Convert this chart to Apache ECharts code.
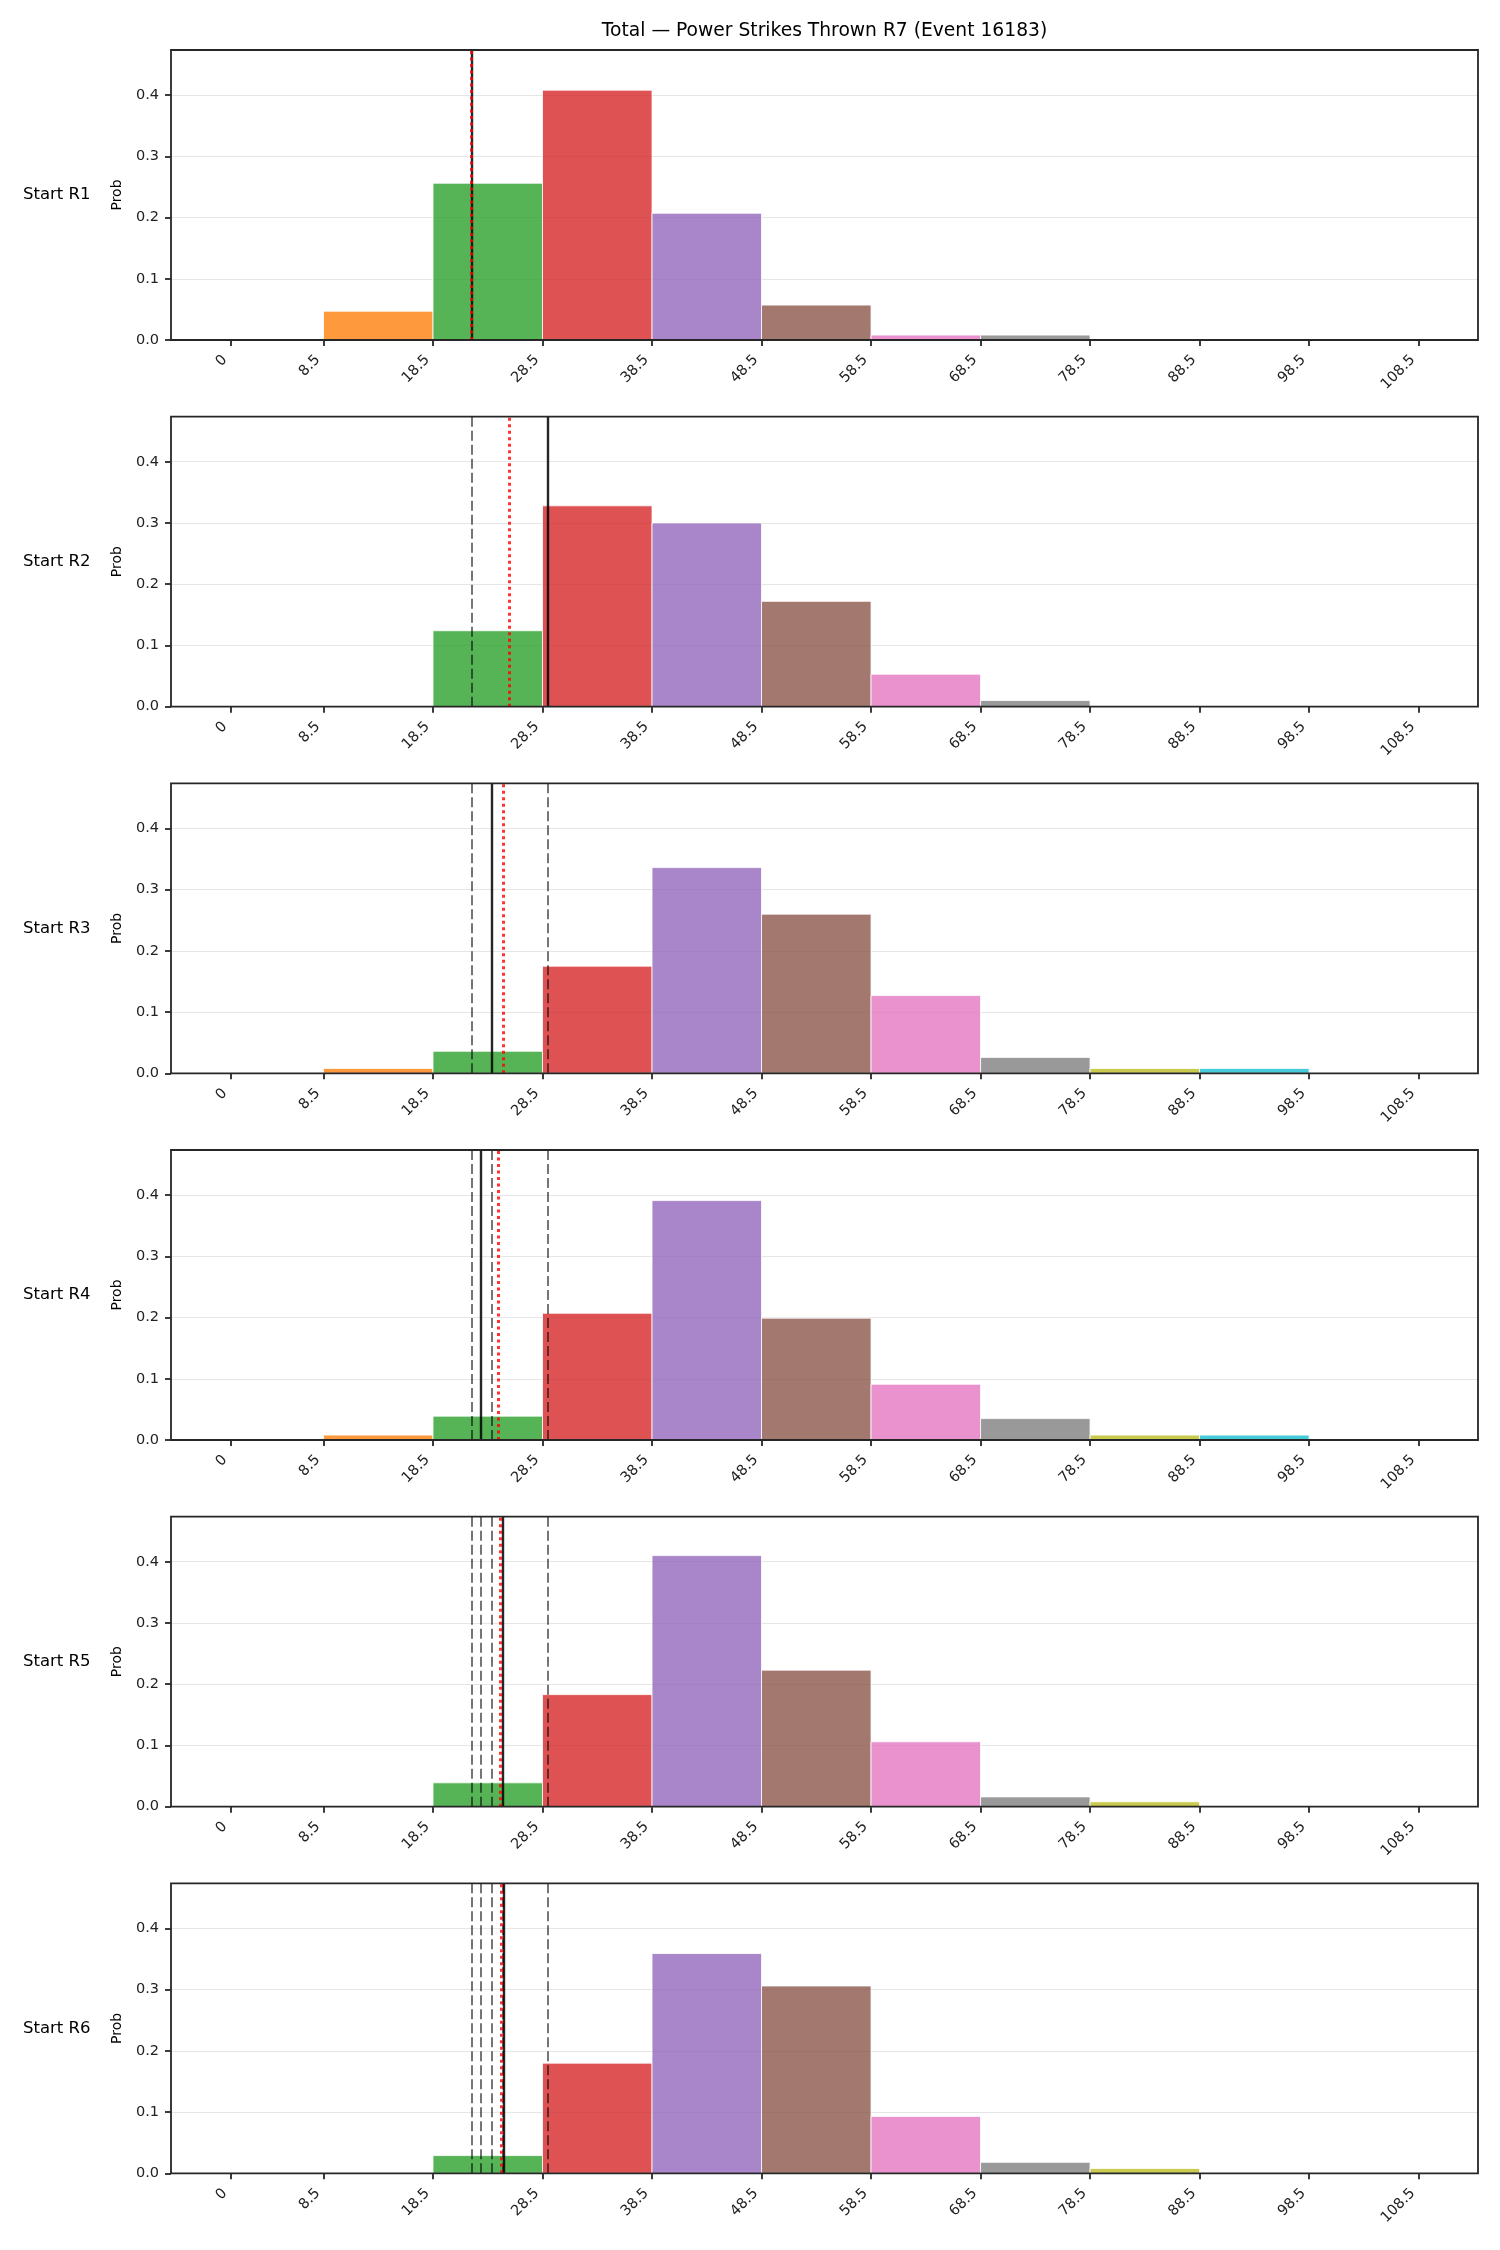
<!DOCTYPE html>
<html>
<head>
<meta charset="utf-8">
<script src="https://cdn.jsdelivr.net/npm/echarts@6/dist/echarts.min.js"></script>
<style>
  html, body { margin: 0; padding: 0; background: #fff; }
  #main { width: 1500px; height: 2250px; }
</style>
</head>
<body>
<div id="main"></div>
<script>
    // bin edges (also used as x tick values)
    const binEdges = [0, 8.5, 18.5, 28.5, 38.5, 48.5, 58.5, 68.5, 78.5, 88.5, 98.5, 108.5];
    const yTicks = [0, 0.1, 0.2, 0.3, 0.4];
    const roundNames = ['Start R1', 'Start R2', 'Start R3', 'Start R4', 'Start R5', 'Start R6'];

    // probability per bin, one array per round
    const probR1 = [0, 0.047, 0.256, 0.408, 0.207, 0.057, 0.008, 0.008, 0, 0, 0];
    const probR2 = [0, 0, 0.124, 0.328, 0.300, 0.172, 0.053, 0.010, 0, 0, 0];
    const probR3 = [0, 0.008, 0.036, 0.175, 0.336, 0.260, 0.127, 0.026, 0.008, 0.008, 0];
    const probR4 = [0, 0.008, 0.039, 0.207, 0.391, 0.199, 0.091, 0.035, 0.008, 0.008, 0];
    const probR5 = [0, 0, 0.039, 0.183, 0.410, 0.223, 0.106, 0.016, 0.008, 0, 0];
    const probR6 = [0, 0, 0.029, 0.180, 0.359, 0.306, 0.093, 0.018, 0.008, 0, 0];
    const probs = [probR1, probR2, probR3, probR4, probR5, probR6];

    // solid line per round (earlier rounds come back dashed), red dotted line per round
    const solidLine = [22.0, 28.95, 23.9, 22.9, 24.9, 24.95];
    const redLine = [22.0, 25.5, 24.9, 24.5, 24.6, 24.75];

    const tab10 = ['#1f77b4', '#ff7f0e', '#2ca02c', '#d62728', '#9467bd',
                   '#8c564b', '#e377c2', '#7f7f7f', '#bcbd22', '#17becf'];

    // layout
    const gLeft = 171, gRight = 22, gTop0 = 50, gStep = 366.67, gHeight = 290;
    const xMin = -5.425, xMax = 113.925, yMax = 0.4736;
    const FONT = 'DejaVu Sans';

    const chart = echarts.init(document.getElementById('main'), null, { renderer: 'canvas' });

    let grids = [], xAxes = [], yAxes = [], series = [], graphics = [];

    graphics.push({
        type: 'text', x: gLeft + (1500 - gLeft - gRight) / 2, y: 31, z: 100,
        style: { text: 'Total \u2014 Power Strikes Thrown R7 (Event 16183)', font: '18.7px "DejaVu Sans"',
                 fill: '#000', align: 'center', verticalAlign: 'middle' }
    });

    for (let i = 0; i < probs.length; i++) {
        const top = gTop0 + gStep * i;
        grids.push({ left: gLeft, right: gRight, top: top, height: gHeight, containLabel: false });
        xAxes.push({
            type: 'value', gridIndex: i, min: xMin, max: xMax,
            axisLine: { show: false, onZero: false },
            axisTick: { show: true, customValues: binEdges, length: 6, lineStyle: { color: '#262626', width: 1.8 } },
            axisLabel: { show: true, customValues: binEdges, rotate: 45, margin: 12, padding: [0, 8, 0, 0],
                         fontFamily: FONT, fontSize: 14.5, color: '#222' },
            splitLine: { show: false }
        });
        yAxes.push({
            type: 'value', gridIndex: i, min: 0, max: yMax, interval: 0.1,
            axisLine: { show: false, onZero: false },
            axisTick: { show: true, customValues: yTicks, length: 6, lineStyle: { color: '#262626', width: 1.8 } },
            axisLabel: { show: true, customValues: yTicks, margin: 12, fontFamily: FONT, fontSize: 14.5, color: '#222',
                         formatter: v => v.toFixed(1) },
            splitLine: { show: true, lineStyle: { color: '#e6e6e6', width: 1 } }
        });

        const data = probs[i].map((p, k) => [binEdges[k], binEdges[k + 1], p, k]);

        let lines = [];
        for (let j = 0; j < i; j++) {
            lines.push({ xAxis: solidLine[j], lineStyle: { color: 'rgba(0,0,0,0.6)', width: 1.8, type: [10, 4] } });
        }
        lines.push({ xAxis: solidLine[i], lineStyle: { color: 'rgba(0,0,0,0.85)', width: 2.4, type: 'solid' } });
        lines.push({ xAxis: redLine[i], lineStyle: { color: 'rgba(255,0,0,0.8)', width: 3, type: [3, 3.5] } });

        series.push({
            type: 'custom', xAxisIndex: i, yAxisIndex: i, data: data,
            encode: { x: [0, 1], y: 2 },
            renderItem: function (params, api) {
                const h = api.value(2);
                if (h <= 0) return null;
                const p0 = api.coord([api.value(0), 0]);
                const p1 = api.coord([api.value(1), h]);
                return {
                    type: 'rect',
                    shape: { x: p0[0], y: p1[1], width: p1[0] - p0[0], height: p0[1] - p1[1] },
                    style: { fill: tab10[api.value(3) % 10], opacity: 0.8, stroke: '#fff', lineWidth: 1 }
                };
            },
            markLine: { silent: true, symbol: 'none', label: { show: false }, animation: false, data: lines },
            animation: false
        });

        // frame on top of bars
        graphics.push({
            type: 'rect', z: 50,
            shape: { x: gLeft, y: top, width: 1500 - gLeft - gRight, height: gHeight },
            style: { fill: null, stroke: '#262626', lineWidth: 1.8 }
        });
        graphics.push({
            type: 'text', x: 117, y: top + gHeight / 2, rotation: Math.PI / 2, z: 100,
            style: { text: 'Prob', font: '14px "DejaVu Sans"', fill: '#000', align: 'center', verticalAlign: 'middle' }
        });
        graphics.push({
            type: 'text', x: 23, y: top + gHeight / 2, z: 100,
            style: { text: roundNames[i], font: '16.5px "DejaVu Sans"', fill: '#000', align: 'left', verticalAlign: 'middle' }
        });
    }

    chart.setOption({
        animation: false,
        backgroundColor: '#fff',
        grid: grids,
        xAxis: xAxes,
        yAxis: yAxes,
        series: series,
        graphic: graphics
    });
</script>
</body>
</html>
